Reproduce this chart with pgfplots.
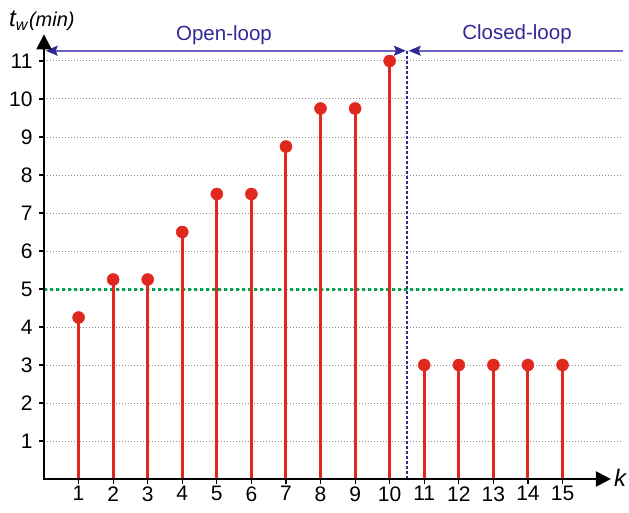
\documentclass[border=0pt]{standalone}
\usepackage{fontspec}
\setmainfont{Liberation Sans}
\usepackage{pgfplots}
\pgfplotsset{compat=1.18}
\usetikzlibrary{arrows.meta}
\definecolor{stemred}{RGB}{224,40,30}
\definecolor{refgreen}{RGB}{0,166,80}
\definecolor{loopblue}{RGB}{50,40,150}
\definecolor{lineblue}{RGB}{110,100,195}
\begin{document}
\begin{tikzpicture}
\useasboundingbox (-44pt,-33pt) rectangle (585pt,479pt);
\begin{axis}[
  at={(0,0)}, anchor=south west,
  scale only axis,
  width=579pt, height=456pt,
  xmin=0, xmax=16.75, ymin=0, ymax=12,
  axis x line*=bottom, axis y line*=left,
  axis line style={draw=none},
  xtick={1,...,15}, ytick={1,...,11},
  tick align=outside,
  major tick length=5pt,
  tick style={black, line width=1.2pt},
  ymajorgrids,
  grid style={dash pattern=on 1pt off 2pt, gray!90, line width=1pt},
  /pgf/number format/assume math mode=true,
  ticklabel style={font=\fontsize{21}{24}\selectfont},
  yticklabel style={xshift=-3pt},
  xticklabel style={yshift=1pt},
  clip=false,
]
\addplot[refgreen, line width=3pt, dash pattern=on 3pt off 3pt] coordinates {(0,5) (16.75,5)};
\addplot[ycomb, stemred, line width=3pt, mark=*, mark size=6pt, mark options={fill=stemred, draw=stemred, line width=0.5pt}] coordinates {
(1,4.25) (2,5.25) (3,5.25) (4,6.5) (5,7.5) (6,7.5) (7,8.75) (8,9.75) (9,9.75) (10,11)
(11,3) (12,3) (13,3) (14,3) (15,3)};
\draw[loopblue, line width=1.2pt, dash pattern=on 3pt off 2pt] (axis cs:10.5,0) -- (axis cs:10.5,11.27);
\draw[lineblue, line width=1.6pt, {Stealth[loopblue,length=12pt,width=10pt,inset=2pt]}-{Stealth[loopblue,length=12pt,width=10pt,inset=2pt]}] (axis cs:0.05,11.27) -- (axis cs:10.47,11.27);
\draw[lineblue, line width=1.6pt, {Stealth[loopblue,length=12pt,width=10pt,inset=2pt]}-] (axis cs:10.55,11.27) -- (axis cs:16.75,11.27);
\draw[black, line width=2.2pt, -{Triangle[length=15pt,width=15pt]}] (axis cs:0,-0.03) -- (axis cs:0,11.7);
\draw[black, line width=2.2pt, -{Triangle[length=15pt,width=15pt]}] (axis cs:-0.03,0) -- (axis cs:16.4,0);
\end{axis}
\node[anchor=base, inner sep=0, font=\fontsize{20.5}{24}\selectfont, text=loopblue] at (180pt,438pt) {Open-loop};
\node[anchor=base, inner sep=0, font=\fontsize{20.5}{24}\selectfont, text=loopblue] at (473pt,439pt) {Closed-loop};
\node[anchor=base west, inner sep=0, font=\itshape] at (-35pt,452pt) {{\fontsize{24}{26}\selectfont t}\raisebox{-4pt}{\fontsize{16}{17}\selectfont w}\,{\fontsize{20}{21}\selectfont (min)}};
\node[anchor=base west, inner sep=0, font=\fontsize{24}{26}\selectfont\itshape] at (570pt,-7pt) {k};
\end{tikzpicture}
\end{document}
